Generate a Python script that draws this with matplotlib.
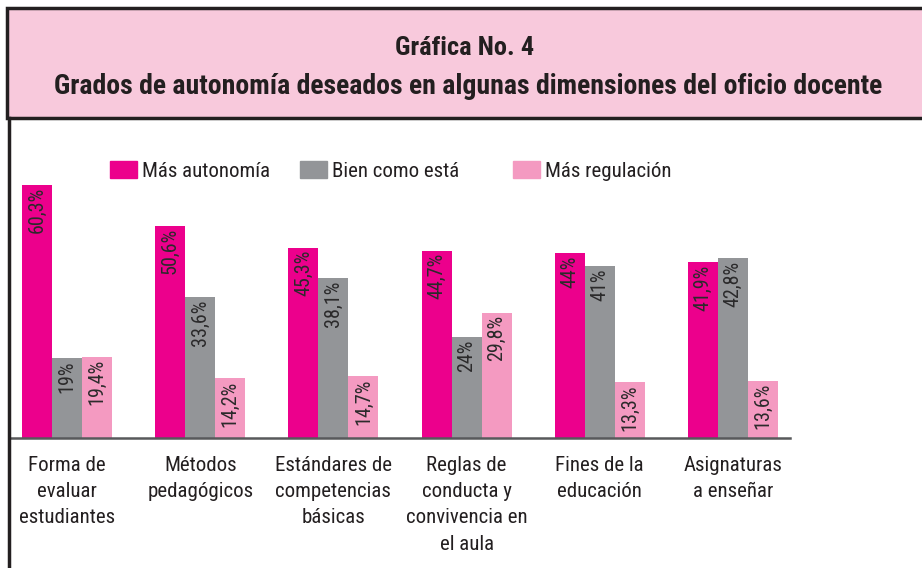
import matplotlib
matplotlib.use('Agg')
import matplotlib.pyplot as plt
from matplotlib.patches import Rectangle, Patch
from matplotlib import font_manager
import numpy as np

categories = ["Forma de\nevaluar\nestudiantes", "Métodos\npedagógicos",
              "Estándares de\ncompetencias\nbásicas", "Reglas de\nconducta y\nconvivencia en\nel aula",
              "Fines de la\neducación", "Asignaturas\na enseñar"]
mas_autonomia = [60.3, 50.6, 45.3, 44.7, 44.0, 41.9]
bien_como_esta = [19.0, 33.6, 38.1, 24.0, 41.0, 42.8]
mas_regulacion = [19.4, 14.2, 14.7, 29.8, 13.3, 13.6]
labels_aut = ["60,3%", "50,6%", "45,3%", "44,7%", "44%", "41,9%"]
labels_bien = ["19%", "33,6%", "38,1%", "24%", "41%", "42,8%"]
labels_reg = ["19,4%", "14,2%", "14,7%", "29,8%", "13,3%", "13,6%"]
series_names = ["Más autonomía", "Bien como está", "Más regulación"]

# condensed face, first one that is installed
names = {f.name for f in font_manager.fontManager.ttflist}
font = 'DejaVu Sans'
for cand in ['Roboto Condensed', 'Archivo Narrow', 'PT Sans Narrow', 'Fira Sans Condensed',
             'IBM Plex Sans Condensed', 'Barlow Semi Condensed', 'Sofia Sans Condensed', 'Asap Condensed']:
    if cand in names:
        font = cand
        break
plt.rcParams['font.family'] = [font, 'DejaVu Sans']

c_aut = '#EC008C'
c_bien = '#939598'
c_reg = '#F49AC1'
txt = '#231F20'

W, H = 922, 568
fig = plt.figure(figsize=(W / 100, H / 100), dpi=100)

# title box
fig.patches.append(Rectangle((7 / W, 1 - 118 / H), 1.0, 110 / H, transform=fig.transFigure,
                             facecolor='#F8C9DC', edgecolor='#231F20', linewidth=2.5, zorder=0))
fig.lines.append(plt.Line2D([8.5 / W, 8.5 / W], [0, 1 - 118 / H], transform=fig.transFigure,
                            color='#231F20', linewidth=2.5))
fig.text(465 / W, 1 - 48 / H, "Gráfica No. 4", ha='center', va='center',
         fontsize=19, fontweight='bold', color=txt)
fig.text(468 / W, 1 - 86 / H, "Grados de autonomía deseados en algunas dimensiones del oficio docente",
         ha='center', va='center', fontsize=20, fontweight='bold', color=txt)

ax = fig.add_axes([10 / W, (H - 438) / H, 780 / W, 320 / H])
x = np.arange(len(categories))
w = 0.225
b1 = ax.bar(x - w, mas_autonomia, w, color=c_aut)
b2 = ax.bar(x, bien_como_esta, w, color=c_bien)
b3 = ax.bar(x + w, mas_regulacion, w, color=c_reg)

for bars, labs in [(b1, labels_aut), (b2, labels_bien), (b3, labels_reg)]:
    for b, lab in zip(bars, labs):
        ax.text(b.get_x() + b.get_width() / 2, b.get_height() - 0.5, lab, rotation=90,
                ha='center', va='top', fontsize=14.5, color='#2B2A2B')

ax.set_xlim(-0.428, 5.428)
ax.set_ylim(0, 76.3)
for s in ['top', 'right', 'left']:
    ax.spines[s].set_visible(False)
ax.spines['bottom'].set_color('#58595B')
ax.spines['bottom'].set_linewidth(1.8)
ax.set_yticks([])
ax.set_xticks(x)
ax.set_xticklabels(categories, fontsize=15, color=txt, linespacing=1.48)
ax.tick_params(axis='x', length=0, pad=13)

# legend entries placed one by one, like the original
leg_x = [100, 290, 503]
for name, c, lx in zip(series_names, (c_aut, c_bien, c_reg), leg_x):
    lg = ax.legend([Patch(color=c)], [name], loc='upper left',
                   bbox_to_anchor=(lx / 780, 1 - 43 / 320), frameon=False, fontsize=15,
                   handlelength=1.3, handleheight=0.9, handletextpad=0.25,
                   labelcolor=txt, borderaxespad=0, borderpad=0)
    ax.add_artist(lg)
ax.legend_ = None

fig.savefig('out.png', dpi=100)
